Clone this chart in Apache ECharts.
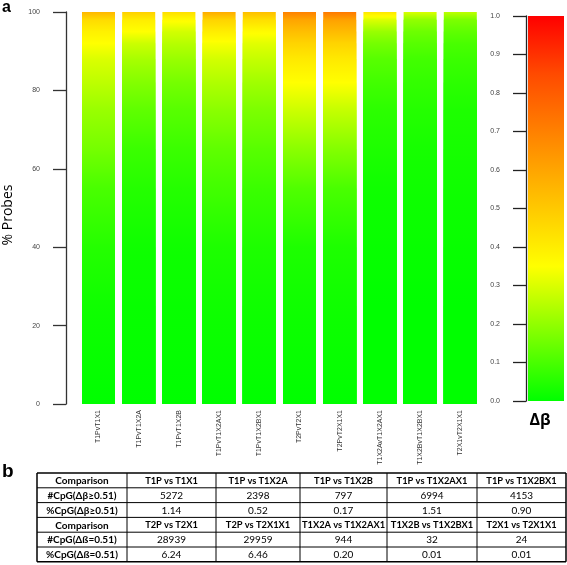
<!DOCTYPE html>
<html><head><meta charset="utf-8">
<script src="https://cdn.jsdelivr.net/npm/echarts@6/dist/echarts.min.js"></script>
<style>html,body{margin:0;padding:0;background:#fff}#c{width:567px;height:565px}</style>
</head><body><div id="c"></div>
<script>
// ---------- data ----------
const categories = ['T1PvT1X1','T1PvT1X2A','T1PvT1X2B','T1PvT1X2AX1','T1PvT1X2BX1','T2PvT2X1','T2PvT2X1X1','T1X2AvT1X2AX1','T1X2BvT1X2BX1','T2X1vT2X1X1'];
// cumulative % of probes (bar height breakpoints)
const pctBreaks = [0, 25, 40, 55, 65, 75, 82, 88, 92, 95, 98, 100];
// delta-beta value reached at each breakpoint, one array per comparison
const db_T1PvT1X1      = [0, 0.02, 0.05, 0.10, 0.16, 0.21, 0.26, 0.30, 0.35, 0.39, 0.45, 0.55];
const db_T1PvT1X2A     = [0, 0.01, 0.02, 0.05, 0.08, 0.13, 0.18, 0.23, 0.28, 0.35, 0.40, 0.48];
const db_T1PvT1X2B     = [0, 0.01, 0.02, 0.05, 0.08, 0.12, 0.16, 0.21, 0.25, 0.29, 0.36, 0.44];
const db_T1PvT1X2AX1   = [0, 0.02, 0.04, 0.09, 0.13, 0.19, 0.24, 0.29, 0.34, 0.40, 0.47, 0.58];
const db_T1PvT1X2BX1   = [0, 0.02, 0.04, 0.08, 0.12, 0.17, 0.22, 0.27, 0.31, 0.36, 0.44, 0.53];
const db_T2PvT2X1      = [0, 0.02, 0.04, 0.11, 0.19, 0.28, 0.35, 0.41, 0.47, 0.53, 0.60, 0.70];
const db_T2PvT2X1X1    = [0, 0.02, 0.04, 0.10, 0.18, 0.27, 0.35, 0.41, 0.47, 0.54, 0.61, 0.72];
const db_T1X2AvT1X2AX1 = [0, 0.00, 0.01, 0.02, 0.04, 0.06, 0.09, 0.12, 0.16, 0.21, 0.30, 0.42];
const db_T1X2BvT1X2BX1 = [0, 0.00, 0.01, 0.02, 0.03, 0.05, 0.07, 0.09, 0.12, 0.15, 0.20, 0.30];
const db_T2X1vT2X1X1   = [0, 0.00, 0.01, 0.02, 0.03, 0.04, 0.06, 0.08, 0.10, 0.13, 0.17, 0.26];
const dbValues = [db_T1PvT1X1, db_T1PvT1X2A, db_T1PvT1X2B, db_T1PvT1X2AX1, db_T1PvT1X2BX1,
                  db_T2PvT2X1, db_T2PvT2X1X1, db_T1X2AvT1X2AX1, db_T1X2BvT1X2BX1, db_T2X1vT2X1X1];
// colour scale for delta-beta
const paletteLevels = [0, 0.35, 0.6, 0.85, 1];
const paletteColors = ['#00ff00', '#ffff00', '#ffa500', '#ff4a00', '#ff0000'];
const yTicks = [0, 20, 40, 60, 80, 100];
const cbTicks = [0, 0.1, 0.2, 0.3, 0.4, 0.5, 0.6, 0.7, 0.8, 0.9, 1.0];

// table
const tableHeader1 = ['Comparison', 'T1P vs T1X1', 'T1P vs T1X2A', 'T1P vs T1X2B', 'T1P vs T1X2AX1', 'T1P vs T1X2BX1'];
const tableCount1  = ['#CpG(Δβ≥0.51)', '5272', '2398', '797', '6994', '4153'];
const tablePct1    = ['%CpG(Δβ≥0.51)', '1.14', '0.52', '0.17', '1.51', '0.90'];
const tableHeader2 = ['Comparison', 'T2P vs T2X1', 'T2P vs T2X1X1', 'T1X2A vs T1X2AX1', 'T1X2B vs T1X2BX1', 'T2X1 vs T2X1X1'];
const tableCount2  = ['#CpG(Δß=0.51)', '28939', '29959', '944', '32', '24'];
const tablePct2    = ['%CpG(Δß=0.51)', '6.24', '6.46', '0.20', '0.01', '0.01'];

// ---------- helpers ----------
function hex2rgb(h){return [parseInt(h.substr(1,2),16),parseInt(h.substr(3,2),16),parseInt(h.substr(5,2),16)];}
function palette(t){
  t = Math.max(0, Math.min(1, t));
  for (let k = 0; k < paletteLevels.length - 1; k++) {
    if (t <= paletteLevels[k+1]) {
      const f = (t - paletteLevels[k]) / (paletteLevels[k+1] - paletteLevels[k]);
      const a = hex2rgb(paletteColors[k]), b = hex2rgb(paletteColors[k+1]);
      const c = a.map((v,i)=>Math.round(v + (b[i]-v)*f));
      return 'rgb(' + c.join(',') + ')';
    }
  }
  return paletteColors[paletteColors.length-1];
}
// gradient for a bar spanning 0..pctBreaks[top] of comparison i
function barGradient(i, top){
  const P = pctBreaks[top];
  const stops = [];
  const n = 6;
  for (let k = 0; k < top; k++) {
    for (let s = 0; s < n; s++) {
      const f = s / n;
      const p = pctBreaks[k] + (pctBreaks[k+1] - pctBreaks[k]) * f;
      const t = dbValues[i][k] + (dbValues[i][k+1] - dbValues[i][k]) * f;
      stops.push({offset: p / P, color: palette(t)});
    }
  }
  stops.push({offset: 1, color: palette(dbValues[i][top])});
  return new echarts.graphic.LinearGradient(0, 1, 0, 0, stops);
}

const chart = echarts.init(document.getElementById('c'), null, {renderer: 'canvas'});

// overlapping bars, tallest first, each reaching a cumulative breakpoint
const series = [];
for (let j = pctBreaks.length - 1; j >= 1; j--) {
  series.push({
    type: 'bar', xAxisIndex: 0, yAxisIndex: 0, barWidth: 33, barGap: '-100%',
    silent: true, animation: false,
    data: categories.map((c, i) => ({value: pctBreaks[j], itemStyle: {color: barGradient(i, j)}}))
  });
}
series.push({
  type: 'bar', xAxisIndex: 1, yAxisIndex: 1, barWidth: '100%', silent: true, animation: false,
  data: [{value: 1, itemStyle: {color: new echarts.graphic.LinearGradient(0, 1, 0, 0,
    paletteLevels.map((l, k) => ({offset: l, color: paletteColors[k]})))}}]
});

// table graphics
const colX = [37, 127, 216, 300, 387, 477, 566];
const tTop = 473, rowH = 14.8;
const rows = [tableHeader1, tableCount1, tablePct1, tableHeader2, tableCount2, tablePct2];
const headerRows = [0, 3];
const tableGraphics = [];
rows.forEach((row, r) => {
  row.forEach((cell, c) => {
    const header = headerRows.includes(r);
    const bold = header || c === 0;
    const size = (header && c > 0) ? 9.3 : 10;
    tableGraphics.push({
      type: 'text', silent: true,
      x: (colX[c] + colX[c+1]) / 2, y: tTop + rowH * r + rowH / 2 + 0.5,
      style: {text: cell, fill: '#000', font: (bold ? 'bold ' : '') + size + 'px Lato, "Open Sans", sans-serif',
              textAlign: 'center', textVerticalAlign: 'middle'}
    });
  });
});
for (let r = 0; r <= rows.length; r++) {
  const y = tTop + rowH * r;
  tableGraphics.push({type: 'line', silent: true, shape: {x1: colX[0], y1: y, x2: colX[colX.length-1], y2: y},
    style: {stroke: '#000', lineWidth: (r === 0 || r === rows.length) ? 1.5 : 1}});
}
colX.forEach((x, c) => {
  tableGraphics.push({type: 'line', silent: true, shape: {x1: x, y1: tTop, x2: x, y2: tTop + rowH * rows.length},
    style: {stroke: '#000', lineWidth: (c === 0 || c === colX.length-1) ? 1.5 : 1}});
});

const option = {
  backgroundColor: '#fff',
  animation: false,
  grid: [
    {left: 78.4, top: 12, width: 402, height: 392, containLabel: false},
    {left: 528, top: 16, width: 36, height: 385, containLabel: false}
  ],
  xAxis: [
    {type: 'category', gridIndex: 0, data: categories,
     axisLine: {show: false}, axisTick: {show: false},
     axisLabel: {rotate: 90, interval: 0, margin: 6, fontSize: 7, color: '#333', fontFamily: '"Liberation Sans", Arial, sans-serif'}},
    {type: 'category', gridIndex: 1, data: ['Δβ'], show: false}
  ],
  yAxis: [
    {type: 'value', gridIndex: 0, min: yTicks[0], max: yTicks[yTicks.length-1], interval: 20, offset: 12.4,
     splitLine: {show: false},
     axisLine: {show: true, lineStyle: {color: '#333', width: 1.3}},
     axisTick: {show: true, length: 13, lineStyle: {color: '#333', width: 1.3}},
     axisLabel: {margin: 26, fontSize: 7, color: '#444', fontFamily: '"Liberation Sans", Arial, sans-serif'}},
    {type: 'value', gridIndex: 1, min: cbTicks[0], max: cbTicks[cbTicks.length-1], interval: 0.1, offset: 2,
     splitLine: {show: false},
     axisLine: {show: true, lineStyle: {color: '#222', width: 1.3}},
     axisTick: {show: true, length: 13, lineStyle: {color: '#222', width: 1.3}},
     axisLabel: {margin: 26, fontSize: 7, color: '#444', fontFamily: '"Liberation Sans", Arial, sans-serif',
                 formatter: v => v.toFixed(1)}}
  ],
  series: series,
  graphic: [
    {type: 'text', silent: true, x: 2, y: 0, style: {text: 'a', font: 'bold 16px "Liberation Sans", Arial, sans-serif', fill: '#000'}},
    {type: 'text', silent: true, x: 2, y: 462, style: {text: 'b', font: 'bold 19px "Liberation Sans", Arial, sans-serif', fill: '#000'}},
    {type: 'text', silent: true, x: 8, y: 215, rotation: Math.PI / 2,
     style: {text: '% Probes', font: '14px "Open Sans", "Liberation Sans", sans-serif', fill: '#000', textAlign: 'center', textVerticalAlign: 'middle'}},
    {type: 'text', silent: true, x: 540, y: 420,
     style: {text: 'Δβ', font: 'bold 16px "Open Sans", "Liberation Sans", sans-serif', fill: '#000', textAlign: 'center', textVerticalAlign: 'middle'}}
  ].concat(tableGraphics)
};
chart.setOption(option);
</script></body></html>
